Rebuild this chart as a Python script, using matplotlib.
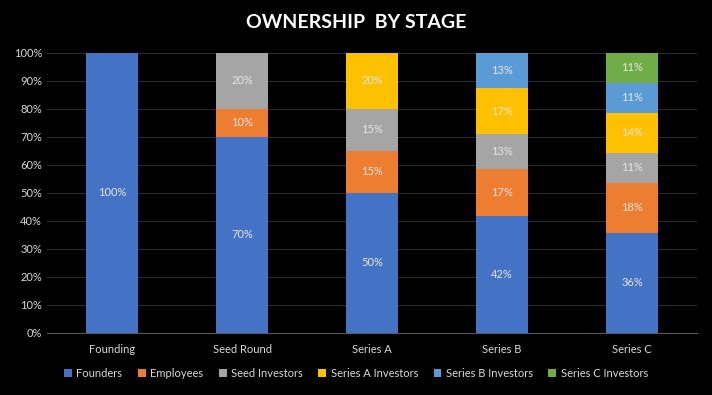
import matplotlib.pyplot as plt
import numpy as np

stages = ["Founding", "Seed Round", "Series A", "Series B", "Series C"]
holders = ["Founders", "Employees", "Seed Investors", "Series A Investors",
           "Series B Investors", "Series C Investors"]
founders = [100, 70, 50, 41.7, 35.7]
employees = [0, 10, 15, 16.7, 17.9]
seed = [0, 20, 15, 12.5, 10.7]
series_a = [0, 0, 20, 16.7, 14.3]
series_b = [0, 0, 0, 12.5, 10.7]
series_c = [0, 0, 0, 0, 10.7]
colors = ["#4472C4", "#ED7D31", "#A5A5A5", "#FFC000", "#5B9BD5", "#70AD47"]

plt.rcParams['font.family'] = ['Lato', 'DejaVu Sans']
fig = plt.figure(figsize=(7.12, 3.95), dpi=100, facecolor="black")
ax = fig.add_axes([0.066, 0.157, 0.913, 0.709], facecolor="black")

x = np.arange(len(stages))
bottom = np.zeros(len(stages))
for name, vals, c in zip(holders, [founders, employees, seed, series_a, series_b, series_c], colors):
    vals = np.array(vals)
    ax.bar(x, vals, 0.4, bottom=bottom, color=c, label=name, zorder=3)
    for xi, v, b in zip(x, vals, bottom):
        if v > 0:
            ax.text(xi, b + v / 2, f"{int(v + 0.5)}%", ha="center", va="center",
                    color="#E6E6E6", fontsize=8, zorder=4)
    bottom += vals

ax.set_xlim(-0.5, len(stages) - 0.5)
ax.set_ylim(0, 100)
ax.set_yticks(range(0, 101, 10))
ax.set_yticklabels([f"{t}%" for t in range(0, 101, 10)])
ax.set_xticks(x)
ax.set_xticklabels(stages)
ax.tick_params(colors="#D9D9D9", labelsize=8, length=0)
ax.tick_params(axis="x", pad=8)
ax.grid(axis="y", color="#2B2B2B", linewidth=0.8, zorder=0)
for s in ["top", "right", "left"]:
    ax.spines[s].set_visible(False)
ax.spines["bottom"].set_color("#595959")

fig.suptitle("OWNERSHIP  BY STAGE", color="white", fontsize=14, fontweight="bold", y=0.965)
fig.legend(loc="lower center", ncol=6, bbox_to_anchor=(0.5, 0.015), frameon=False,
           labelcolor="#D9D9D9", fontsize=8, handlelength=0.7, handleheight=0.7,
           handletextpad=0.4, columnspacing=1.4)

plt.savefig("out.png", facecolor="black")
plt.close()
